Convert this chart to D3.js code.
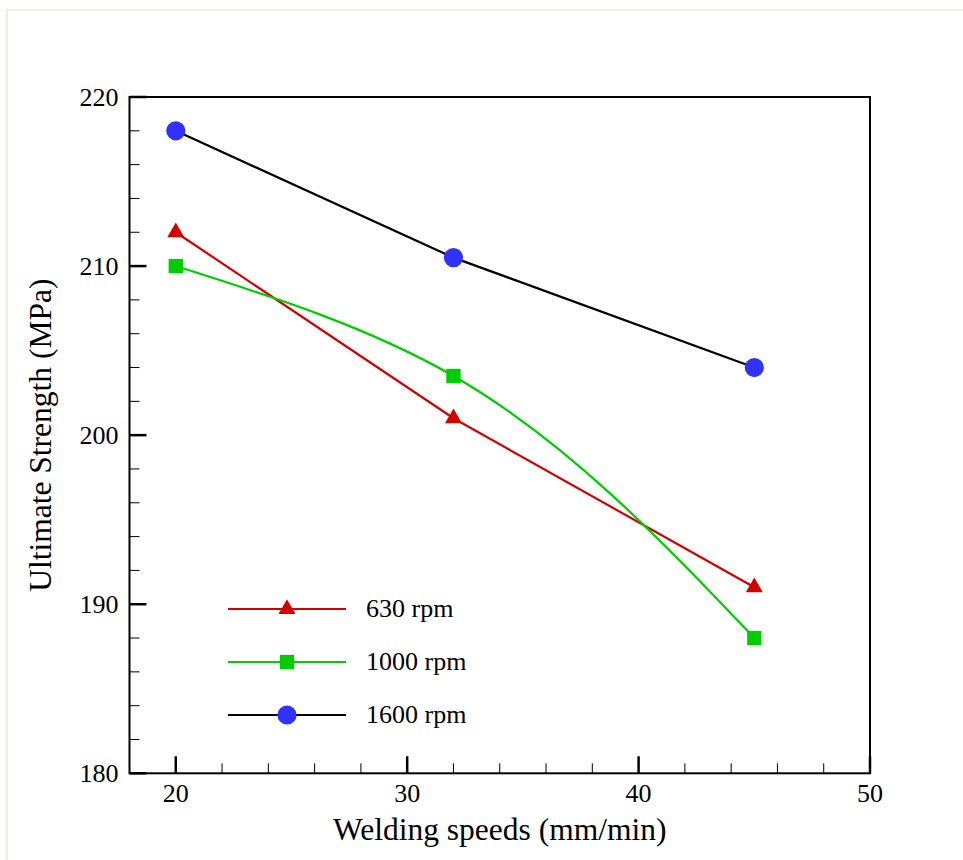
<!DOCTYPE html>
<html>
<head>
<meta charset="utf-8">
<script src="https://cdn.jsdelivr.net/npm/d3@7"></script>
<style>
  html, body { margin: 0; padding: 0; background: #fff; }
  svg { display: block; }
  text { font-family: "Liberation Serif", "Times New Roman", serif; fill: #000; }
</style>
</head>
<body>
<script>
// ---- data ----
const speeds = [20, 32, 45];
const rpm630 = [212, 201, 191];
const rpm1000 = [210, 203.5, 188];
const rpm1600 = [218, 210.5, 204];
const seriesNames = ["630 rpm", "1000 rpm", "1600 rpm"];
const xMajorTicks = [20, 30, 40, 50];
const yMajorTicks = [180, 190, 200, 210, 220];
const xTitle = "Welding speeds (mm/min)";
const yTitle = "Ultimate Strength (MPa)";

const W = 963, H = 860;
const margin = { left: 129.5, top: 97, right: 963 - 870, bottom: 860 - 773.3 };

// Parametric (chord-length) natural cubic spline as a d3 curve factory
function curveParamSpline(context) {
  let pts;
  return {
    areaStart() {}, areaEnd() {},
    lineStart() { pts = []; },
    point(x, y) { pts.push([+x, +y]); },
    lineEnd() {
      const n = pts.length;
      if (n === 0) return;
      context.moveTo(pts[0][0], pts[0][1]);
      if (n < 3) { for (let i = 1; i < n; i++) context.lineTo(pts[i][0], pts[i][1]); return; }
      const h = [];
      for (let i = 0; i < n - 1; i++) h.push(Math.hypot(pts[i + 1][0] - pts[i][0], pts[i + 1][1] - pts[i][1]));
      const deriv = [];
      for (let c = 0; c < 2; c++) {
        const v = pts.map(p => p[c]);
        const s = h.map((hi, i) => (v[i + 1] - v[i]) / hi);
        // solve tridiagonal for second derivatives, natural ends
        const M = new Array(n).fill(0);
        const a = [], b = [], d = [], r = [];
        for (let i = 1; i < n - 1; i++) {
          a.push(h[i - 1]); b.push(2 * (h[i - 1] + h[i])); d.push(h[i]); r.push(6 * (s[i] - s[i - 1]));
        }
        const m = b.length;
        for (let i = 1; i < m; i++) {
          const w = a[i] / b[i - 1];
          b[i] -= w * d[i - 1]; r[i] -= w * r[i - 1];
        }
        const sol = new Array(m);
        for (let i = m - 1; i >= 0; i--) sol[i] = (r[i] - (i < m - 1 ? d[i] * sol[i + 1] : 0)) / b[i];
        for (let i = 0; i < m; i++) M[i + 1] = sol[i];
        const D = [];
        for (let i = 0; i < n - 1; i++) D.push(s[i] - h[i] * (2 * M[i] + M[i + 1]) / 6);
        D.push(s[n - 2] + h[n - 2] * (M[n - 2] + 2 * M[n - 1]) / 6);
        deriv.push(D);
      }
      for (let i = 0; i < n - 1; i++) {
        const k = h[i] / 3;
        context.bezierCurveTo(
          pts[i][0] + deriv[0][i] * k, pts[i][1] + deriv[1][i] * k,
          pts[i + 1][0] - deriv[0][i + 1] * k, pts[i + 1][1] - deriv[1][i + 1] * k,
          pts[i + 1][0], pts[i + 1][1]);
      }
    }
  };
}

const svg = d3.select("body").append("svg").attr("width", W).attr("height", H);

// page border
svg.append("rect").attr("x", 7).attr("y", 10).attr("width", W + 20).attr("height", H + 20)
  .attr("fill", "none").attr("stroke", "#efece3").attr("stroke-width", 2);

const x = d3.scaleLinear().domain([18, 50]).range([margin.left, W - margin.right]);
const y = d3.scaleLinear().domain([180, 220]).range([H - margin.bottom, margin.top]);

const x0 = x.range()[0], x1 = x.range()[1], y0 = y.range()[0], y1 = y.range()[1];

const xMinor = d3.range(22, 50, 2).filter(v => !xMajorTicks.includes(v));
const yMinor = d3.range(182, 220, 2).filter(v => !yMajorTicks.includes(v));

const g = svg.append("g");
g.selectAll(".xminor").data(xMinor).enter().append("line")
  .attr("x1", d => x(d)).attr("x2", d => x(d)).attr("y1", y0).attr("y2", y0 - 10)
  .attr("stroke", "#000").attr("stroke-width", 1);
g.selectAll(".xmajor").data(xMajorTicks).enter().append("line")
  .attr("x1", d => x(d)).attr("x2", d => x(d)).attr("y1", y0).attr("y2", y0 - 17)
  .attr("stroke", "#000").attr("stroke-width", 2.5);
g.selectAll(".yminor").data(yMinor).enter().append("line")
  .attr("x1", x0).attr("x2", x0 + 10).attr("y1", d => y(d)).attr("y2", d => y(d))
  .attr("stroke", "#000").attr("stroke-width", 1);
g.selectAll(".ymajor").data(yMajorTicks).enter().append("line")
  .attr("x1", x0).attr("x2", x0 + 17).attr("y1", d => y(d)).attr("y2", d => y(d))
  .attr("stroke", "#000").attr("stroke-width", 2.5);

// frame
svg.append("rect").attr("x", x0).attr("y", y1).attr("width", x1 - x0).attr("height", y0 - y1)
  .attr("fill", "none").attr("stroke", "#000").attr("stroke-width", 2);

// tick labels
svg.selectAll(".xl").data(xMajorTicks).enter().append("text")
  .attr("x", d => x(d)).attr("y", y0 + 28.5).attr("text-anchor", "middle")
  .attr("font-size", 26).text(d => d);
svg.selectAll(".yl").data(yMajorTicks).enter().append("text")
  .attr("x", x0 - 11).attr("y", d => y(d) + 9).attr("text-anchor", "end")
  .attr("font-size", 26).text(d => d);

// axis titles
svg.append("text").attr("x", (x0 + x1) / 2).attr("y", 840).attr("text-anchor", "middle")
  .attr("font-size", 31.5).text(xTitle);
svg.append("text").attr("transform", `translate(51,${(y0 + y1) / 2}) rotate(-90)`)
  .attr("text-anchor", "middle").attr("font-size", 31.5).text(yTitle);

// series
const series = [
  { name: seriesNames[0], vals: rpm630, color: "#d40000", fill: "#d40000", sym: d3.symbolTriangle, size: 125, curve: d3.curveLinear },
  { name: seriesNames[1], vals: rpm1000, color: "#00cc00", fill: "#00cc00", sym: d3.symbolSquare, size: 205, curve: curveParamSpline },
  { name: seriesNames[2], vals: rpm1600, color: "#000000", fill: "#3232ff", sym: d3.symbolCircle, size: 290, curve: d3.curveLinear }
];

series.forEach(s => {
  const pts = speeds.map((v, i) => [v, s.vals[i]]);
  const line = d3.line().x(d => x(d[0])).y(d => y(d[1])).curve(s.curve);
  svg.append("path").attr("d", line(pts)).attr("fill", "none")
    .attr("stroke", s.color).attr("stroke-width", 2.2);
  svg.selectAll(null).data(pts).enter().append("path")
    .attr("d", d3.symbol().type(s.sym).size(s.size))
    .attr("transform", d => `translate(${x(d[0])},${y(d[1])})`)
    .attr("fill", s.fill);
});

// legend
const legY = [609, 662, 715];
series.forEach((s, i) => {
  svg.append("line").attr("x1", 228).attr("x2", 346).attr("y1", legY[i]).attr("y2", legY[i])
    .attr("stroke", s.color).attr("stroke-width", 2.2);
  svg.append("path").attr("d", d3.symbol().type(s.sym).size(s.size)())
    .attr("transform", `translate(287,${legY[i]})`).attr("fill", s.fill);
  svg.append("text").attr("x", 366).attr("y", legY[i] + 8).attr("font-size", 26).text(s.name);
});
</script>
</body>
</html>
